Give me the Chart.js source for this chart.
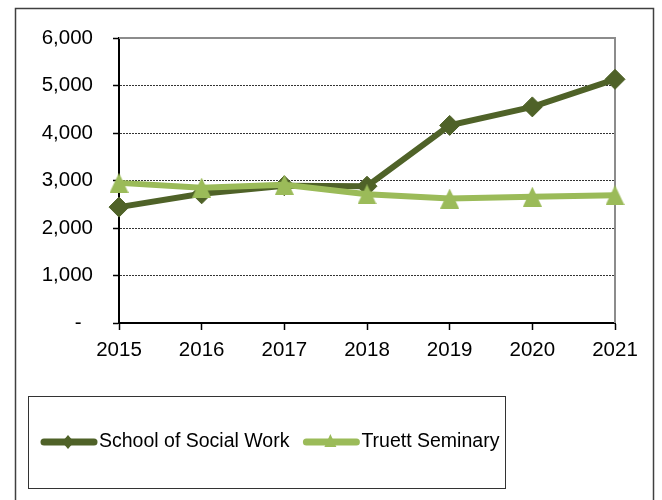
<!DOCTYPE html>
<html>
<head>
<meta charset="utf-8">
<script src="https://cdn.jsdelivr.net/npm/chart.js@4/dist/chart.umd.min.js"></script>
<style>
    body { margin: 0; background: #fff; }
    canvas { display: block; }
</style>
</head>
<body>
<canvas id="enrollChart" width="662" height="500"></canvas>
<script>
// data
const years = ['2015', '2016', '2017', '2018', '2019', '2020', '2021'];
const socialWork = [2440, 2720, 2890, 2880, 4160, 4550, 5130];
const truett = [2950, 2850, 2910, 2710, 2620, 2660, 2690];
const seriesNames = ['School of Social Work', 'Truett Seminary'];
const yMax = 6000;
const yStep = 1000;

const darkGreen = '#4f6228';
const lightGreen = '#9bbb59';
const fontFamily = "'Liberation Sans', Arial, sans-serif";

// Excel style triangle marker (centered on its box)
function makeTriangle(w, h, color) {
    const c = document.createElement('canvas');
    c.width = w;
    c.height = h;
    const g = c.getContext('2d');
    g.fillStyle = color;
    g.beginPath();
    g.moveTo(w / 2, 0);
    g.lineTo(w, h);
    g.lineTo(0, h);
    g.closePath();
    g.fill();
    return c;
}

// frame, plot border and the boxed legend
const framePlugin = {
    id: 'frame',
    beforeDatasetsDraw(chart) {
        const ctx = chart.ctx;
        const a = chart.chartArea;
        ctx.save();
        ctx.strokeStyle = '#8c8c8c';
        ctx.lineWidth = 2;
        ctx.beginPath();
        ctx.moveTo(a.left, a.top);
        ctx.lineTo(a.right, a.top);
        ctx.lineTo(a.right, a.bottom);
        ctx.stroke();
        ctx.restore();
    },
    afterDraw(chart) {
        const ctx = chart.ctx;
        ctx.save();
        // outer frame
        ctx.strokeStyle = '#404040';
        ctx.lineWidth = 1.5;
        ctx.strokeRect(15.5, 8.5, 638, 600);

        // legend box
        ctx.lineWidth = 1;
        ctx.strokeStyle = '#333';
        ctx.strokeRect(28.5, 396.5, 477, 92);

        ctx.font = '19.5px ' + fontFamily;
        ctx.textBaseline = 'middle';
        ctx.fillStyle = '#000';
        let x = 40;
        const y = 442;
        chart.data.datasets.forEach((ds, i) => {
            ctx.strokeStyle = ds.borderColor;
            ctx.lineWidth = 7;
            ctx.lineCap = 'round';
            ctx.beginPath();
            ctx.moveTo(x + 4, y);
            ctx.lineTo(x + 54, y);
            ctx.stroke();
            const mx = x + 28;
            ctx.fillStyle = ds.borderColor;
            ctx.beginPath();
            if (i === 0) {
                ctx.moveTo(mx, y - 7);
                ctx.lineTo(mx + 6, y);
                ctx.lineTo(mx, y + 7);
                ctx.lineTo(mx - 6, y);
            } else {
                ctx.moveTo(mx, y - 8);
                ctx.lineTo(mx + 6, y + 5);
                ctx.lineTo(mx - 6, y + 5);
            }
            ctx.closePath();
            ctx.fill();
            ctx.fillStyle = '#000';
            ctx.fillText(ds.label, x + 59, y);
            x += 59 + ctx.measureText(ds.label).width + 13;
        });
        ctx.restore();
    }
};

const ctx = document.getElementById('enrollChart');

ctx.chart = new Chart(ctx, {
    type: 'line',
    data: {
        labels: years,
        datasets: [{
            label: seriesNames[0],
            data: socialWork,
            borderColor: darkGreen,
            backgroundColor: darkGreen,
            borderWidth: 6,
            pointStyle: 'rectRot',
            pointRadius: 10,
            pointBorderWidth: 1,
            tension: 0,
            order: 1
        }, {
            label: seriesNames[1],
            data: truett,
            borderColor: lightGreen,
            backgroundColor: lightGreen,
            borderWidth: 6,
            pointStyle: makeTriangle(19, 20, lightGreen),
            pointRadius: 10,
            tension: 0,
            order: 0
        }]
    },
    options: {
        responsive: false,
        animation: false,
        layout: {
            padding: { left: 0, top: 38, right: 47, bottom: 137 }
        },
        plugins: {
            legend: { display: false },
            tooltip: { enabled: false }
        },
        scales: {
            x: {
                offset: false,
                afterFit: s => { s.height = 40; },
                grid: {
                    drawOnChartArea: false,
                    tickLength: 7,
                    tickColor: '#000',
                    tickWidth: 1.5
                },
                border: { color: '#000', width: 2 },
                ticks: {
                    color: '#000',
                    padding: 8,
                    maxRotation: 0,
                    autoSkip: false,
                    font: { family: fontFamily, size: 20.5 }
                }
            },
            y: {
                min: 0,
                max: yMax,
                afterFit: s => { s.width = 119; },
                grid: {
                    color: c => (c.tick && (c.tick.value === 0 || c.tick.value === yMax)) ? 'rgba(0,0,0,0)' : '#333',
                    lineWidth: 1,
                    tickLength: 6,
                    tickColor: '#000',
                    tickWidth: 1.5
                },
                border: { color: '#000', width: 2, dash: [2, 1] },
                ticks: {
                    stepSize: yStep,
                    color: '#000',
                    padding: 20,
                    font: { family: fontFamily, size: 20.5 },
                    callback: v => v === 0 ? '-  ' : v.toLocaleString('en-US')
                }
            }
        }
    },
    plugins: [framePlugin]
});
</script>
</body>
</html>
